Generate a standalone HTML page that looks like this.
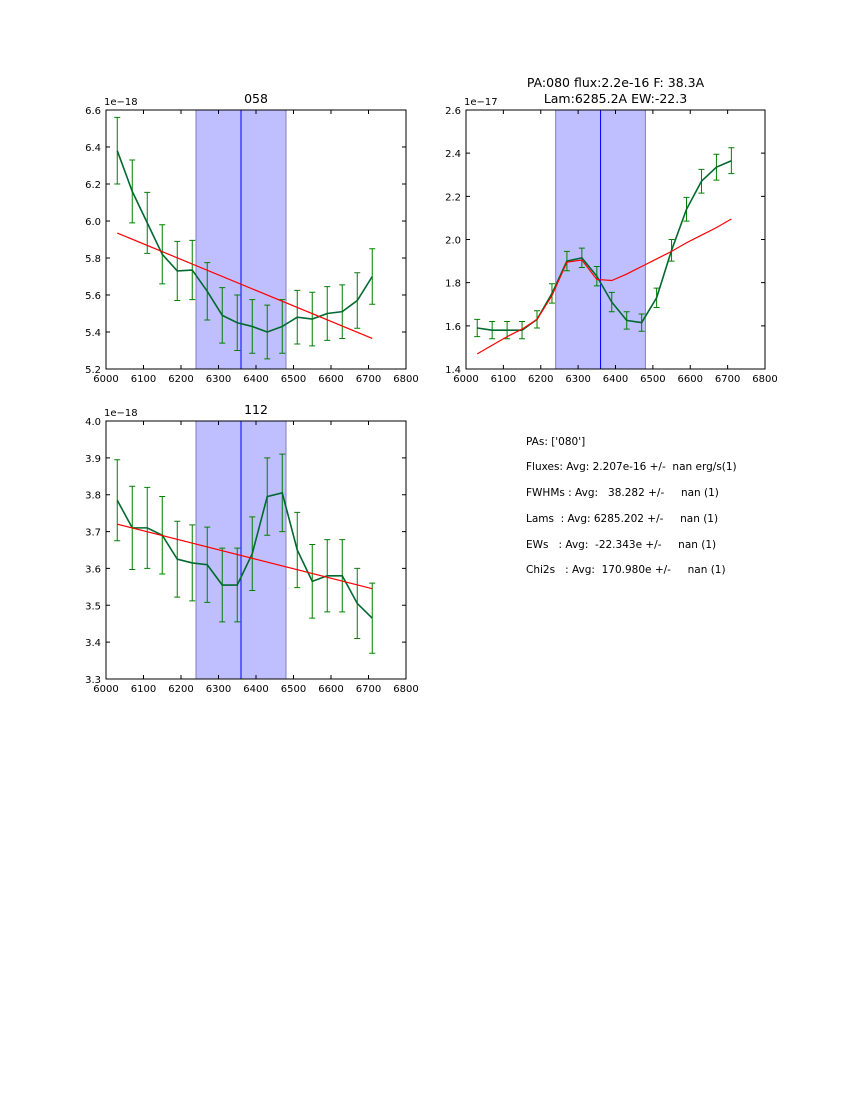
<!DOCTYPE html>
<html><head><meta charset="utf-8"><style>
body{margin:0;background:#fff;width:850px;height:1100px;overflow:hidden}
svg{font-family:"DejaVu Sans","Liberation Sans",sans-serif}
</style></head><body>
<svg id="s" width="850" height="1100"></svg>
<script>
const wavelengths=[6030,6070,6110,6150,6190,6230,6270,6310,6350,6390,6430,6470,6510,6550,6590,6630,6670,6710];
const flux058=[6.38,6.16,5.99,5.82,5.73,5.735,5.62,5.49,5.45,5.43,5.40,5.43,5.48,5.47,5.50,5.51,5.57,5.70];
const err058=[0.18,0.17,0.165,0.16,0.16,0.16,0.155,0.15,0.15,0.145,0.145,0.145,0.145,0.145,0.145,0.145,0.15,0.15];
const fit058=[5.935,5.365];
const flux080=[1.59,1.58,1.58,1.58,1.63,1.75,1.90,1.915,1.83,1.71,1.625,1.615,1.73,1.95,2.14,2.27,2.335,2.365];
const err080=[0.04,0.04,0.04,0.04,0.04,0.045,0.045,0.045,0.045,0.045,0.04,0.04,0.045,0.05,0.055,0.055,0.06,0.06];
const model080=[1.47,1.51,1.55,1.585,1.63,1.74,1.895,1.905,1.815,1.81,1.84,1.875,1.91,1.945,1.985,2.02,2.055,2.095];
const flux112=[3.785,3.71,3.71,3.69,3.625,3.615,3.61,3.555,3.555,3.64,3.795,3.805,3.65,3.565,3.58,3.58,3.505,3.465];
const err112=[0.11,0.113,0.11,0.105,0.103,0.103,0.102,0.1,0.1,0.1,0.105,0.105,0.102,0.1,0.098,0.098,0.095,0.095];
const fit112=[3.72,3.545];
const xTicks=[6000,6100,6200,6300,6400,6500,6600,6700,6800];
const yTicks058=[5.2,5.4,5.6,5.8,6.0,6.2,6.4,6.6];
const yTicks080=[1.4,1.6,1.8,2.0,2.2,2.4,2.6];
const yTicks112=[3.3,3.4,3.5,3.6,3.7,3.8,3.9,4.0];
const band=[6240,6480], center=6360;

const S=document.getElementById('s'),NS='http://www.w3.org/2000/svg';
function mk(t,a,p,txt){const e=document.createElementNS(NS,t);for(const k in a)e.setAttribute(k,a[k]);if(txt!==undefined)e.textContent=txt;(p||S).appendChild(e);return e;}
function panel(name,L,T,W,H,ymin,ymax,yt,fmt,exp,title,vals,errs,red){
  const g=mk('g',{});
  
  
  const X=v=>L+(v-6000)/800*W, Y=v=>T+H-(v-ymin)/(ymax-ymin)*H;
  const r=mk('rect',{x:X(band[0]),y:T,width:X(band[1])-X(band[0]),height:H,fill:'#bfbfff',stroke:'#7f7fbf','stroke-width':1},g);
  
  
  const c=mk('line',{x1:X(center),x2:X(center),y1:T,y2:T+H,stroke:'#0000ff','stroke-width':1},g);
  
  
  let rp;
  if(red.length===2) rp=[[X(wavelengths[0]),Y(red[0])],[X(wavelengths[wavelengths.length-1]),Y(red[1])]];
  else rp=red.map((v,i)=>[X(wavelengths[i]),Y(v)]);
  wavelengths.forEach((w,i)=>{
    const x=X(w),y1=Y(vals[i]+errs[i]),y2=Y(vals[i]-errs[i]);
    const eb=mk('path',{d:`M${x},${y1}V${y2}M${x-3},${y1}H${x+3}M${x-3},${y2}H${x+3}`,stroke:'#008000','stroke-width':1,fill:'none'},g);
    
    
  });
  const dl=mk('polyline',{points:vals.map((v,i)=>X(wavelengths[i])+','+Y(v)).join(' '),fill:'none',stroke:'#006a2e','stroke-width':1.6},g);
  
  
  const fl=mk('polyline',{points:rp.map(p=>p.join(',')).join(' '),fill:'none',stroke:'#ff0000','stroke-width':1.2},g);
  
  
  mk('rect',{x:L,y:T,width:W,height:H,fill:'none',stroke:'#000','stroke-width':1},g);
  xTicks.forEach(t=>{const x=X(t);mk('path',{d:`M${x},${T+H}v-4M${x},${T}v4`,stroke:'#000'},g);
    const tx=mk('text',{x:x,y:T+H+13,'font-size':10,'text-anchor':'middle'},g,t);
    
    });
  yt.forEach(t=>{const y=Y(t);mk('path',{d:`M${L},${y}h4M${L+W},${y}h-4`,stroke:'#000'},g);
    const tx=mk('text',{x:L-5,y:y+4,'font-size':10,'text-anchor':'end'},g,t.toFixed(fmt));
    
    });
  const e=mk('text',{x:L-2,y:T-5,'font-size':10},g,exp);
  
  
  title.forEach((s,i)=>{const t=mk('text',{x:L+W/2,y:T-7-(title.length-1-i)*16,'font-size':12.5,'text-anchor':'middle'},g,s);
    
    });
}
panel('058',106,110,300,259,5.2,6.6,yTicks058,1,'1e\u221218',['058'],flux058,err058,fit058);
panel('080',466,110,299,259,1.4,2.6,yTicks080,1,'1e\u221217',['PA:080 flux:2.2e-16 F: 38.3A','Lam:6285.2A EW:-22.3'],flux080,err080,model080);
panel('112',106,421,300,258,3.3,4.0,yTicks112,1,'1e\u221218',['112'],flux112,err112,fit112);
const lines=[["PAs: ['080']",445],["Fluxes: Avg: 2.207e-16 +/-  nan erg/s(1)",470],["FWHMs : Avg:   38.282 +/-     nan (1)",496],["Lams  : Avg: 6285.202 +/-     nan (1)",522],["EWs   : Avg:  -22.343e +/-     nan (1)",548],["Chi2s   : Avg:  170.980e +/-     nan (1)",573]];
lines.forEach(l=>{const t=mk('text',{x:526,y:l[1],'font-size':10.5,'xml:space':'preserve'},S,l[0]);t.style.whiteSpace='pre';
  
  });
</script></body></html>
